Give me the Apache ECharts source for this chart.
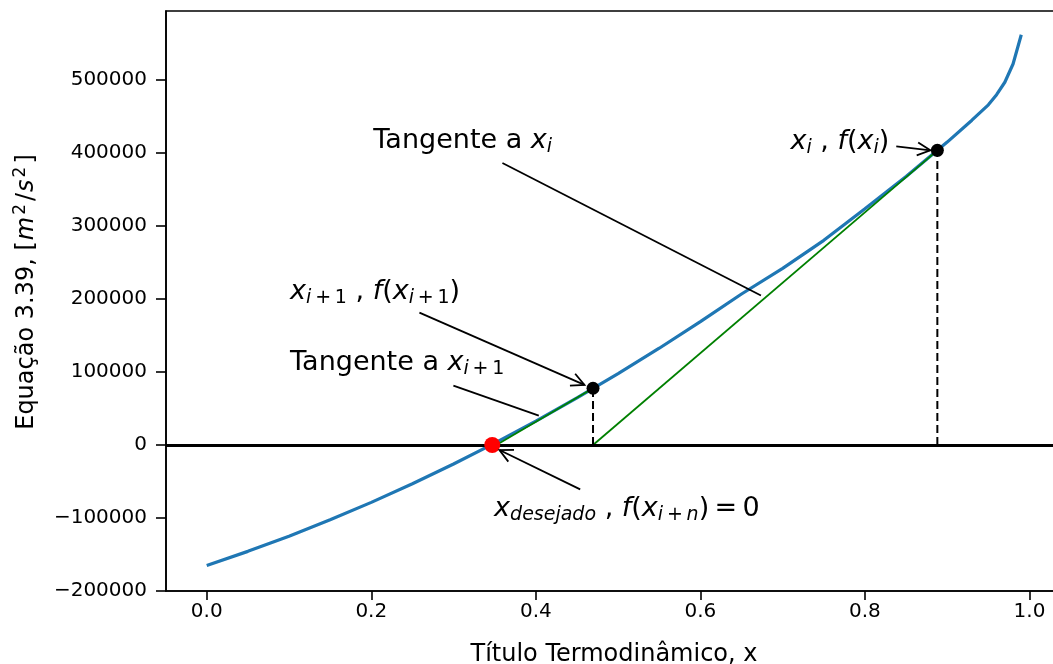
<!DOCTYPE html>
<html>
<head>
<meta charset="utf-8">
<script src="https://cdn.jsdelivr.net/npm/echarts@6/dist/echarts.min.js"></script>
<style>
  html, body { margin: 0; padding: 0; background: #fff; }
  #chart { width: 1053px; height: 664px; }
</style>
</head>
<body>
<div id="chart"></div>
<script>
// Equation 3.39 residual versus vapour quality, with two Newton-Raphson steps.
const xValues = [0, 0.05, 0.10, 0.15, 0.20, 0.25, 0.30, 0.35, 0.40, 0.45, 0.50, 0.55,
                 0.60, 0.65, 0.70, 0.75, 0.80, 0.85, 0.90, 0.93, 0.95, 0.96, 0.97, 0.98, 0.99];
const fValues = [-165000, -145700, -124900, -102500, -78600, -53000, -26000, 2600, 32800,
                 64500, 97800, 132600, 169000, 206900, 242000, 280400, 323600, 367800,
                 415000, 445000, 466000, 480000, 497000, 522000, 562000];

const xTicks = [0.0, 0.2, 0.4, 0.6, 0.8, 1.0];
const yTicks = [-200000, -100000, 0, 100000, 200000, 300000, 400000, 500000];

// Newton iterates: x_i and x_{i+1}
const iterX = [0.888, 0.4695];
const iterF = [403700, 77800];
// abscissa where the tangent drawn at each iterate crosses f = 0
const tangentZero = [0.4695, 0.352];
// converged root
const rootX = [0.347];
const rootF = [0];

// annotation text fragments: [text, italic, subscript]
const THIN = '\u2009';
const annotations = [
  { parts: [['Tangente a ', 0, 0], ['x', 1, 0], ['i', 1, 1]],
    at: [0.2025, 404000], from: [0.3594, 386300], to: [0.6736, 204800], head: false },
  { parts: [['x', 1, 0], ['i', 1, 1], [THIN + '+' + THIN + '1', 0, 1], [' , ', 0, 0], ['f', 1, 0], ['(', 0, 0],
            ['x', 1, 0], ['i', 1, 1], [THIN + '+' + THIN + '1', 0, 1], [')', 0, 0]],
    at: [0.1013, 197000], from: [0.2585, 181400], to: [0.4591, 82300], head: true },
  { parts: [['Tangente a ', 0, 0], ['x', 1, 0], ['i', 1, 1], [THIN + '+' + THIN + '1', 0, 1]],
    at: [0.1013, 100000], from: [0.2998, 81300], to: [0.4036, 40200], head: false },
  { parts: [['x', 1, 0], ['i', 1, 1], [' , ', 0, 0], ['f', 1, 0], ['(', 0, 0], ['x', 1, 0],
            ['i', 1, 1], [')', 0, 0]],
    at: [0.7095, 402000], from: [0.8381, 409100], to: [0.8795, 403700], head: true },
  { parts: [['x', 1, 0], ['desejado', 1, 1], [' , ', 0, 0], ['f', 1, 0], ['(', 0, 0], ['x', 1, 0],
            ['i', 1, 1], [THIN + '+' + THIN, 0, 1], ['n', 1, 1], [')', 0, 0],
            [THIN + '=' + THIN + '0', 0, 0]],
    at: [0.3493, -100500], from: [0.4539, -60800], to: [0.3558, -6900], head: true }
];

const FAMILY = '"DejaVu Sans", "Liberation Sans", sans-serif';
const MAIN_SIZE = 27;
const SUB_SIZE = 19;
const SUB_SHIFT = 3.5;

const measureCtx = document.createElement('canvas').getContext('2d');
function textWidth(text, font) {
  measureCtx.font = font;
  return measureCtx.measureText(text).width;
}

function renderAnnotation(params, api) {
  const a = annotations[params.dataIndex];
  const children = [];
  const p1 = api.coord(a.from);
  const p2 = api.coord(a.to);
  children.push({
    type: 'line',
    shape: { x1: p1[0], y1: p1[1], x2: p2[0], y2: p2[1] },
    style: { stroke: '#000', lineWidth: 1.8 }
  });
  if (a.head) {
    const ang = Math.atan2(p2[1] - p1[1], p2[0] - p1[0]);
    const L = 13, W = 6.5;
    const bx = p2[0] - L * Math.cos(ang), by = p2[1] - L * Math.sin(ang);
    const nx = -Math.sin(ang), ny = Math.cos(ang);
    children.push({
      type: 'polyline',
      shape: { points: [[bx + W * nx, by + W * ny], [p2[0], p2[1]], [bx - W * nx, by - W * ny]] },
      style: { stroke: '#000', lineWidth: 1.8, fill: null }
    });
  }
  const base = api.coord(a.at);
  let x = base[0];
  a.parts.forEach(([t, it, sub]) => {
    const size = sub ? SUB_SIZE : MAIN_SIZE;
    const font = (it ? 'italic ' : '') + size + 'px ' + FAMILY;
    const baseline = base[1] + (sub ? SUB_SHIFT : 0);
    children.push({
      type: 'text',
      style: {
        text: t, x: x, y: baseline - 0.346 * size, font: font, fill: '#000',
        align: 'left', verticalAlign: 'middle'
      }
    });
    x += textWidth(t, font);
  });
  return { type: 'group', children: children };
}

const curve = xValues.map((x, i) => [x, fValues[i]]);
const tangentLines = iterX.map((x, i) => [[tangentZero[i], 0], [x, iterF[i]]]);
const dropLines = iterX.map((x, i) => [[x, 0], [x, iterF[i]]]);

const chart = echarts.init(document.getElementById('chart'), null, { renderer: 'canvas' });

const series = [
  {
    type: 'line',
    data: curve,
    showSymbol: false,
    lineStyle: { color: '#1f77b4', width: 3.2 },
    z: 2,
    silent: true,
    markLine: {
      silent: true,
      symbol: ['none', 'none'],
      label: { show: false },
      lineStyle: { color: '#000', width: 3, type: 'solid' },
      data: [{ yAxis: 0 }]
    }
  }
];
tangentLines.forEach(seg => series.push({
  type: 'line', data: seg, showSymbol: false, silent: true, z: 3,
  lineStyle: { color: '#008000', width: 1.8 }
}));
dropLines.forEach(seg => series.push({
  type: 'line', data: seg, showSymbol: false, silent: true, z: 3,
  lineStyle: { color: '#000', width: 2, type: [8, 4] }
}));
series.push({
  type: 'scatter', data: iterX.map((x, i) => [x, iterF[i]]), symbolSize: 13, silent: true, z: 5,
  itemStyle: { color: '#000', opacity: 1 }
});
series.push({
  type: 'scatter', data: rootX.map((x, i) => [x, rootF[i]]), symbolSize: 16, silent: true, z: 5,
  itemStyle: { color: '#ff0000', opacity: 1 }
});
series.push({
  type: 'custom', data: annotations.map(a => a.at), encode: { x: 0, y: 1 },
  renderItem: renderAnnotation, clip: false, silent: true, z: 6
});

chart.setOption({
  animation: false,
  backgroundColor: '#fff',
  textStyle: { fontFamily: FAMILY },
  grid: {
    left: 166, right: -9, top: 11, bottom: 73,
    outerBoundsMode: 'none', containLabel: false,
    show: true, borderColor: '#000', borderWidth: 1.6, backgroundColor: 'transparent'
  },
  xAxis: {
    type: 'value', min: -0.0495, max: 1.0395,
    name: 'Título Termodinâmico, x', nameLocation: 'middle', nameGap: 52,
    nameTextStyle: { fontSize: 24, color: '#000', fontFamily: FAMILY },
    axisLine: { onZero: false, lineStyle: { color: '#000', width: 1.6 } },
    axisTick: { show: true, length: 9, customValues: xTicks, lineStyle: { color: '#000', width: 1.6 } },
    axisLabel: { customValues: xTicks, margin: 11, fontSize: 20, color: '#000', fontFamily: FAMILY,
                 formatter: v => v.toFixed(1) },
    splitLine: { show: false }
  },
  yAxis: {
    type: 'value', min: -200000, max: 594600,
    name: 'Equação 3.39, [{it|m}{sup|2}/{it|s}{sup|2}]', nameLocation: 'middle', nameGap: 124,
    nameTextStyle: {
      fontSize: 24, color: '#000', fontFamily: FAMILY, lineHeight: 30, padding: [0, 0, 0, 18],
      rich: {
        it: { fontStyle: 'italic', fontSize: 24, fontFamily: FAMILY, color: '#000', lineHeight: 30,
              padding: [0, 1, 0, 1] },
        sup: { fontSize: 17, fontFamily: FAMILY, color: '#000', verticalAlign: 'top', lineHeight: 18,
               padding: [0, 3, 0, 1] }
      }
    },
    axisLine: { onZero: false, lineStyle: { color: '#000', width: 1.6 } },
    axisTick: { show: true, length: 10, customValues: yTicks, lineStyle: { color: '#000', width: 1.6 } },
    axisLabel: { customValues: yTicks, margin: 19, fontSize: 20, color: '#000', fontFamily: FAMILY,
                 formatter: v => String(v).replace('-', '\u2212') },
    splitLine: { show: false }
  },
  series: series
});
</script>
</body>
</html>
